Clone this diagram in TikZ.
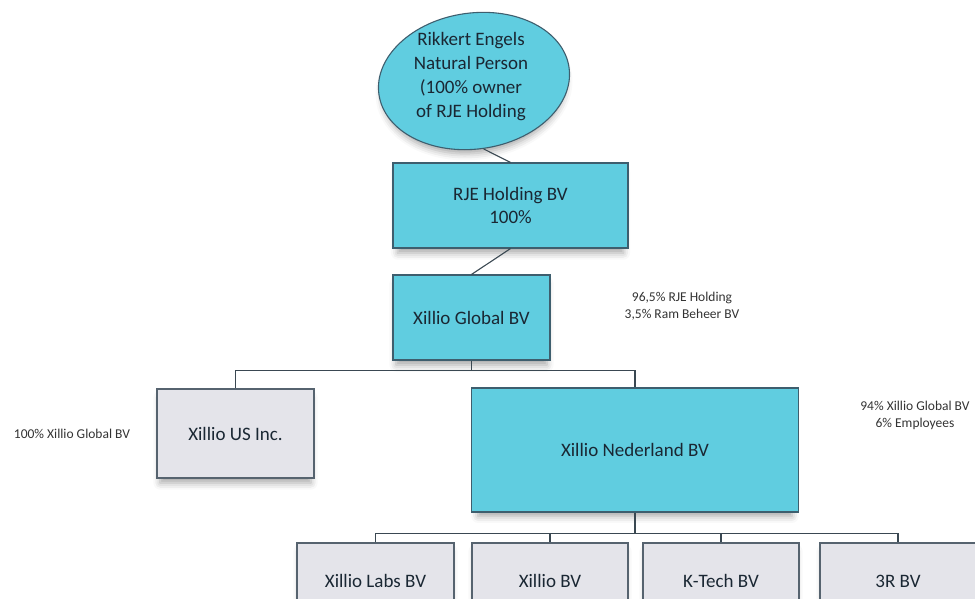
\documentclass[tikz,border=0pt]{standalone}
\usepackage{fontspec}
\setmainfont{Carlito}
\usetikzlibrary{shadows.blur,shapes.geometric}
\definecolor{cyanfill}{HTML}{60CDE0}
\definecolor{boxline}{HTML}{3E5E6E}
\definecolor{grayfill}{HTML}{E4E4EA}
\definecolor{grayline}{HTML}{56636F}
\definecolor{txt}{HTML}{1A2733}
\definecolor{smalltxt}{HTML}{333333}
\definecolor{lnk}{HTML}{3A4852}
\tikzset{
  shd/.style={blur shadow={shadow xshift=0pt,shadow yshift=-7pt,shadow scale=0.96,shadow opacity=35,shadow blur radius=7pt}},
  cbox/.style={draw=boxline,line width=1.1pt,fill=cyanfill,text=txt,align=center,font=\fontsize{19}{23}\selectfont,inner sep=0pt,shd},
  gbox/.style={draw=grayline,line width=1.1pt,fill=grayfill,text=txt,align=center,font=\fontsize{19}{23}\selectfont,inner sep=0pt,shd},
  note/.style={text=smalltxt,align=center,font=\fontsize{13.5}{17}\selectfont,inner sep=0pt},
  lk/.style={draw=lnk,line width=1.1pt}
}
\begin{document}
\begin{tikzpicture}[x=1pt,y=-1pt]
\useasboundingbox (0,0) rectangle (975,598);
\begin{scope}
\clip (0,0) rectangle (975,598);
\node[ellipse,cbox,rotate=8,minimum width=192,minimum height=136] (ell) at (474,81) {};
\node[text=txt,align=center,font=\fontsize{19}{24}\selectfont,inner sep=0pt] (elltext) at (471,77)
  {Rikkert Engels\\Natural Person\\(100\% owner\\of RJE Holding};
\node[cbox,minimum width=235,minimum height=85] (rje) at (510.5,205.5) {RJE Holding BV\\100\%};
\node[cbox,minimum width=157,minimum height=85] (glob) at (471.5,317.5) {Xillio Global BV};
\node[gbox,minimum width=157,minimum height=89] (us) at (235.5,433.5) {Xillio US Inc.};
\node[cbox,minimum width=327,minimum height=124] (ned) at (635,450) {Xillio Nederland BV};
\node[gbox,minimum width=157,minimum height=76] (labs) at (375.5,581) {Xillio Labs BV};
\node[gbox,minimum width=156,minimum height=76] (xbv) at (550,581) {Xillio BV};
\node[gbox,minimum width=156,minimum height=76] (kt) at (721,581) {K-Tech BV};
\node[gbox,minimum width=156,minimum height=76] (r3) at (898,581) {3R BV};

\node[note] (n1) at (682,306) {96,5\% RJE Holding\\3,5\% Ram Beheer BV};
\node[note] (n2) at (72,434) {100\% Xillio Global BV};
\node[note] (n3) at (915,415) {94\% Xillio Global BV\\6\% Employees};

\draw[lk] (ell.south) -- (rje.north);
\draw[lk] (rje.south) -- (glob.north);
\draw[lk] (glob.south) -- ++(0,10) coordinate (b1);
\draw[lk] (us.north) |- (b1) -| (ned.north);
\draw[lk] (ned.south) -- ++(0,21) coordinate (b2);
\draw[lk] (labs.north) |- (b2) -| (r3.north);
\draw[lk] (xbv.north) -- (xbv.north |- b2);
\draw[lk] (kt.north) -- (kt.north |- b2);
\end{scope}
\end{tikzpicture}
\end{document}
